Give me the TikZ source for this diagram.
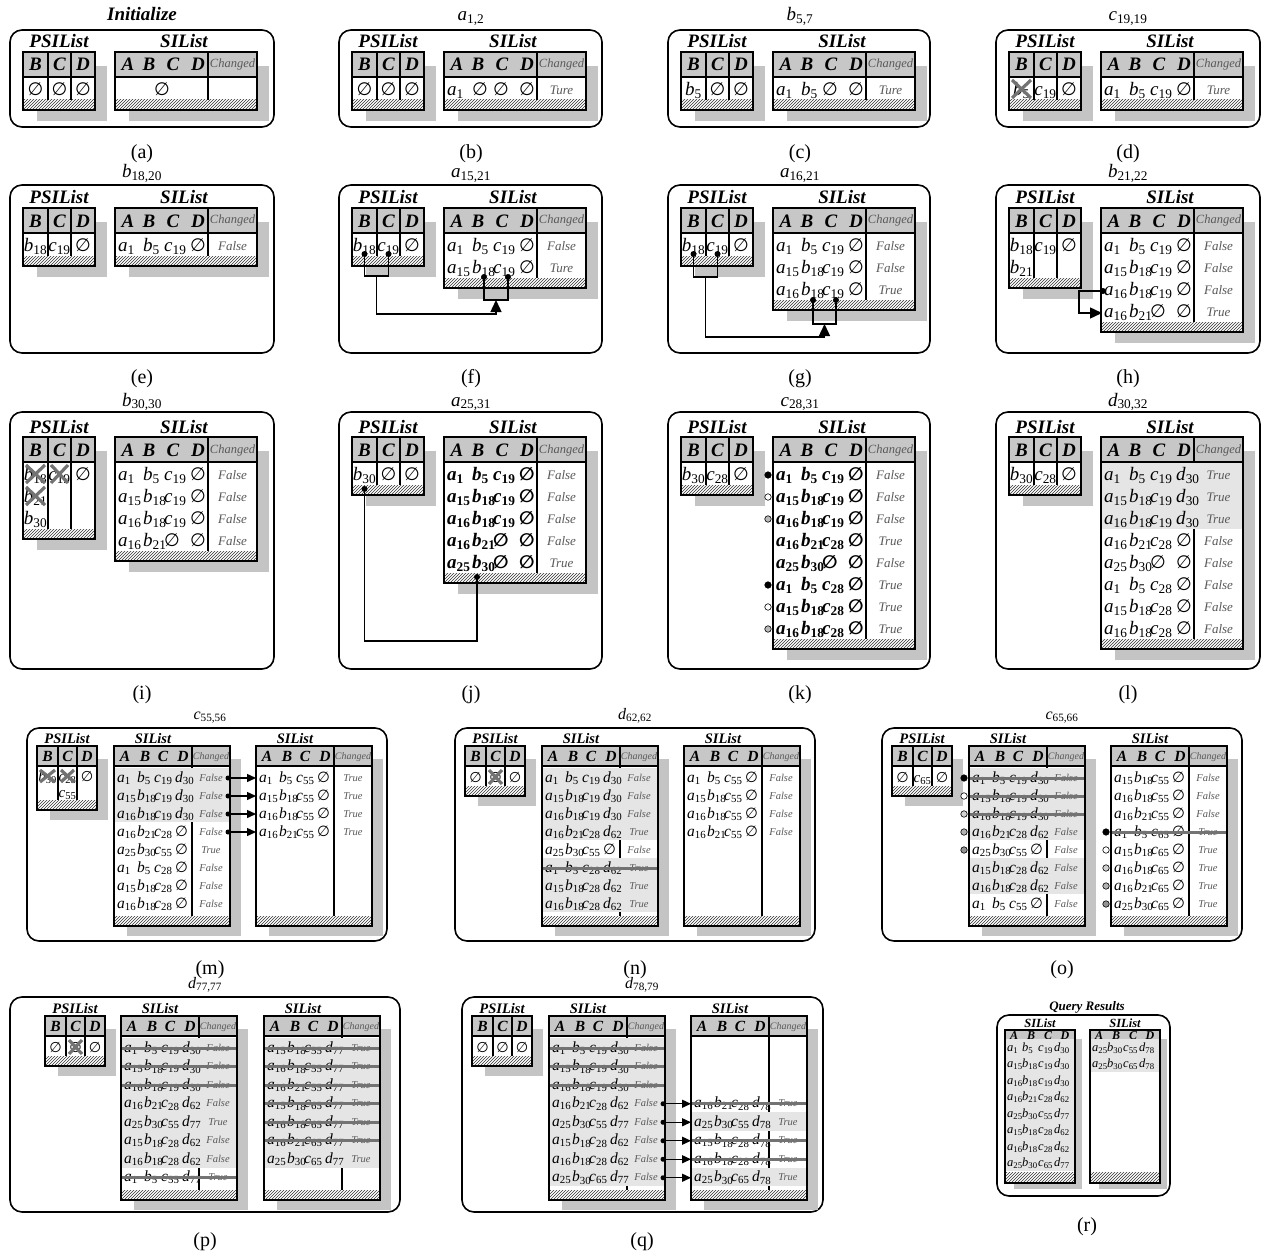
\documentclass[tikz,border=0pt]{standalone}
\usepackage{fontspec}
\setmainfont{Liberation Serif}
\newfontfamily\dvfont[Scale=0.95]{DejaVu Sans}
\usetikzlibrary{patterns,arrows.meta}
\definecolor{hdrc}{gray}{0.78}
\definecolor{shdc}{gray}{0.77}
\definecolor{bandc}{gray}{0.9}
\definecolor{strc}{gray}{0.45}
\definecolor{chc}{gray}{0.35}
\newcounter{nc}
\newcommand\xV[2]{\textit{#1}\textsubscript{#2}}
\newcommand\xN{{\dvfont ∅}}
\newcommand\xT[4]{\stepcounter{nc}\node[inner sep=0pt,#1] (t\arabic{nc}) at ({#2},{#3}) {#4};}
\newcommand\hfL{\fontsize{19}{20}\selectfont\bfseries\itshape}
\newcommand\hfS{\fontsize{15.5}{16}\selectfont\bfseries\itshape}
\newcommand\lfS{\fontsize{14.5}{15}\selectfont\bfseries\itshape}
\newcommand\ttl{\fontsize{19}{20}\selectfont}
\newcommand\ttS{\fontsize{16}{17}\selectfont}
\newcommand\xL[3]{\xT{anchor=base}{#1}{#2}{\fontsize{20}{22}\selectfont #3}}
\newcommand\xFR[4]{\draw[fr] (#1,#2) rectangle (#3,#4);}
\newcommand\xTB[7]{%
 \fill[shdc] ({#1+#7},{#2+#7}) rectangle ({#3+#7-2},{#4+#7-3});
 \fill[white] ({#1},{#2}) rectangle ({#3},{#4});
 \fill[hdrc] ({#1},{#2}) rectangle ({#3},{#5});
 \fill[pattern=north east lines,pattern color=black!80] ({#1},{#6}) rectangle ({#3},{#4});
 \draw[line width=2.4] ({#1},{#5}) -- ({#3},{#5});
 \draw[tbl] ({#1},{#2}) rectangle ({#3},{#4});}
% large SIList
\newcommand\xSILL[3]{%
 \def\tx{#1}\def\tw{#1+142}\def\ty{#2+26}\def\rr{22}\def\tch{#1+117.5}\def\bl{6.5}%
 \def\oA{3}\def\oB{28}\def\oC{49}\def\oD{75}%
 \def\ef{\fontsize{19}{20}\selectfont}\def\cf{\fontsize{13}{14}\selectfont\itshape\color{chc}}%
 \xTB{#1}{#2}{#1+142}{#2+36+22*#3}{#2+25}{#2+26+22*#3}{14}
 \draw[sepl] ({#1+93},{#2}) -- ({#1+93},{#2+26+22*#3});
 \xT{anchor=base}{#1+13}{#2+19}{\hfL A}
 \xT{anchor=base}{#1+34}{#2+19}{\hfL B}
 \xT{anchor=base}{#1+58}{#2+19}{\hfL C}
 \xT{anchor=base}{#1+83}{#2+19}{\hfL D}
 \xT{anchor=base}{#1+117.5}{#2+16}{\fontsize{12.5}{13}\selectfont\itshape\color{chc}Changed}
 \xT{anchor=base}{#1+69}{#2-4}{\hfL SIList}}
% large PSIList
\newcommand\xPSL[3]{%
 \def\px{#1}\def\pty{#2+26}\def\prr{22}\def\pbl{6.5}%
 \def\pcA{12.5}\def\pcB{36.5}\def\pcC{60}\def\pxA{0}\def\pxB{25}\def\pxC{48}\def\pxD{72}%
 \def\pef{\fontsize{19}{20}\selectfont}%
 \xTB{#1}{#2}{#1+72}{#2+36+22*#3}{#2+25}{#2+26+22*#3}{14}
 \draw[sepl] ({#1+25},{#2}) -- ({#1+25},{#2+26+22*#3});
 \draw[sepl] ({#1+48},{#2}) -- ({#1+48},{#2+26+22*#3});
 \xT{anchor=base}{#1+12.5}{#2+19}{\hfL B}
 \xT{anchor=base}{#1+36.5}{#2+19}{\hfL C}
 \xT{anchor=base}{#1+60}{#2+19}{\hfL D}
 \xT{anchor=base}{#1+36}{#2-4}{\hfL PSIList}}
% small PSIList
\newcommand\xPSS[4]{%
 \def\px{#1}\def\pty{#2+22}\def\prr{#4}\def\pbl{5}%
 \def\pcA{10.5}\def\pcB{30.5}\def\pcC{50}\def\pxA{0}\def\pxB{21}\def\pxC{40}\def\pxD{60}%
 \def\pef{\fontsize{15}{16}\selectfont}%
 \xTB{#1}{#2}{#1+60}{#2+32+#3*#4}{#2+20}{#2+22+#3*#4}{13}
 \draw[sepl] ({#1+21},{#2}) -- ({#1+21},{#2+22+#3*#4});
 \draw[sepl] ({#1+40},{#2}) -- ({#1+40},{#2+22+#3*#4});
 \xT{anchor=base}{#1+10.5}{#2+15.5}{\hfS B}
 \xT{anchor=base}{#1+30.5}{#2+15.5}{\hfS C}
 \xT{anchor=base}{#1+50}{#2+15.5}{\hfS D}
 \xT{anchor=base}{#1+30}{#2-3}{\lfS PSIList}}
% small SIList
\newcommand\xSILS[3]{%
 \def\tx{#1}\def\tw{#1+116}\def\ty{#2+22}\def\rr{#3}\def\tch{#1+97}\def\bl{5}%
 \def\oA{3}\def\oB{23}\def\oC{40}\def\oD{61}%
 \def\ef{\fontsize{15.5}{16}\selectfont}\def\cf{\fontsize{10.5}{11}\selectfont\itshape\color{chc}}%
 \xTB{#1}{#2}{#1+116}{#2+36+8*#3}{#2+20}{#2+26+8*#3}{13}
 \draw[sepl] ({#1+78},{#2}) -- ({#1+78},{#2+26+8*#3});
 \xT{anchor=base}{#1+11}{#2+15.5}{\hfS A}
 \xT{anchor=base}{#1+31}{#2+15.5}{\hfS B}
 \xT{anchor=base}{#1+49}{#2+15.5}{\hfS C}
 \xT{anchor=base}{#1+69}{#2+15.5}{\hfS D}
 \xT{anchor=base}{#1+97}{#2+13}{\fontsize{10}{11}\selectfont\itshape\color{chc}Changed}
 \xT{anchor=base}{#1+39}{#2-3}{\lfS SIList}}
% query result SIList
\newcommand\xSILR[2]{%
 \def\tx{#1}\def\tw{#1+70}\def\ty{#2+9}\def\rr{16.5}\def\tch{#1}\def\bl{4}%
 \def\oA{2}\def\oB{17}\def\oC{33}\def\oD{49}%
 \def\ef{\fontsize{12.5}{13}\selectfont}\def\cf{}%
 \xTB{#1}{#2}{#1+70}{#2+153}{#2+10}{#2+142}{9}
 \xT{anchor=base}{#1+9}{#2+9}{\fontsize{12}{12}\selectfont\bfseries\itshape A}
 \xT{anchor=base}{#1+26}{#2+9}{\fontsize{12}{12}\selectfont\bfseries\itshape B}
 \xT{anchor=base}{#1+43}{#2+9}{\fontsize{12}{12}\selectfont\bfseries\itshape C}
 \xT{anchor=base}{#1+60}{#2+9}{\fontsize{12}{12}\selectfont\bfseries\itshape D}
 \xT{anchor=base}{#1+35}{#2-3}{\fontsize{12.5}{13}\selectfont\bfseries\itshape SIList}}
\newcommand\xPR[4]{%
 \xT{anchor=base}{\px+\pcA}{\pty+\prr*(#1-0.5)+\pbl}{\pef #2}
 \xT{anchor=base}{\px+\pcB}{\pty+\prr*(#1-0.5)+\pbl}{\pef #3}
 \xT{anchor=base}{\px+\pcC}{\pty+\prr*(#1-0.5)+\pbl}{\pef #4}}
\newcommand\xPX[2]{%
 \ifcase#2\or\def\xxa{\pxA}\def\xxb{\pxB}\or\def\xxa{\pxB}\def\xxb{\pxC}\or\def\xxa{\pxC}\def\xxb{\pxD}\fi
 \draw[xx] ({\px+\xxa+3},{\pty+\prr*(#1-1)+2}) -- ({\px+\xxb-3},{\pty+\prr*#1-2})
  ({\px+\xxa+3},{\pty+\prr*#1-2}) -- ({\px+\xxb-3},{\pty+\prr*(#1-1)+2});}
\newcommand\xSR[6]{%
 \xT{anchor=base west}{\tx+\oA}{\ty+\rr*(#1-0.5)+\bl}{\ef #2}
 \xT{anchor=base west}{\tx+\oB}{\ty+\rr*(#1-0.5)+\bl}{\ef #3}
 \xT{anchor=base west}{\tx+\oC}{\ty+\rr*(#1-0.5)+\bl}{\ef #4}
 \xT{anchor=base west}{\tx+\oD}{\ty+\rr*(#1-0.5)+\bl}{\ef #5}
 \xT{anchor=base}{\tch}{\ty+\rr*(#1-0.5)+\bl-1}{\cf #6}}
\newcommand\xBR[1]{\fill[bandc] ({\tx+1.4},{\ty+\rr*(#1-1)}) rectangle ({\tw-1.4},{\ty+\rr*#1});}
\newcommand\xSK[1]{\draw[strk] ({\tx+1.4},{\ty+\rr*(#1-0.5)+1}) -- ({\tw-1.4},{\ty+\rr*(#1-0.5)+1});}
\newcommand\xRD[2]{\xT{dotc,fill=#2}{\tx-5}{\ty+\rr*(#1-0.5)+1}{}}
\tikzset{
 fr/.style={line width=1.6,rounded corners=12},
 tbl/.style={line width=2.8},
 sepl/.style={line width=2.6},
 strk/.style={line width=3,strc},
 xx/.style={line width=3.2,strc},
 dotc/.style={circle,draw=black,line width=0.6,minimum size=6.5pt},
 conn/.style={line width=1.4},
 arr/.style={line width=1.4,-{Triangle[length=12pt,width=11pt]}},
 arrs/.style={line width=1.4,-{Triangle[length=9pt,width=8pt]}},
 jdot/.style={circle,fill=black,minimum size=6pt,inner sep=0pt},
}
\begin{document}
\begin{tikzpicture}[x=1pt,y=-1pt]
\fill[white] (0,0) rectangle (1266,1252);
\useasboundingbox (0,0) rectangle (1266,1252);
% ================= ROW 1 =================
% (a)
\xFR{10}{30}{274}{127}
\xT{anchor=base}{142}{21}{\ttl\bfseries\itshape Initialize}
\xPSL{23}{52}{1}\xPR{1}{\xN}{\xN}{\xN}
\xSILL{115}{52}{1}
\xT{anchor=base}{162}{95.5}{\ef\xN}
\xL{142}{159}{(a)}
% (b)
\xFR{339}{30}{602}{127}
\xT{anchor=base}{471}{21}{\ttl\xV a{1,2}}
\xPSL{352}{52}{1}\xPR{1}{\xN}{\xN}{\xN}
\xSILL{444}{52}{1}\xSR{1}{\xV a1}{\xN}{\xN}{\xN}{Ture}
\xL{471}{159}{(b)}
% (c)
\xFR{668}{30}{930}{127}
\xT{anchor=base}{800}{21}{\ttl\xV b{5,7}}
\xPSL{681}{52}{1}\xPR{1}{\xV b5}{\xN}{\xN}
\xSILL{773}{52}{1}\xSR{1}{\xV a1}{\xV b5}{\xN}{\xN}{Ture}
\xL{800}{159}{(c)}
% (d)
\xFR{996}{30}{1260}{127}
\xT{anchor=base}{1128}{21}{\ttl\xV c{19,19}}
\xPSL{1009}{52}{1}\xPR{1}{\xV b5}{\xV c{19}}{\xN}\xPX{1}{1}
\xSILL{1101}{52}{1}\xSR{1}{\xV a1}{\xV b5}{\xV c{19}}{\xN}{Ture}
\xL{1128}{159}{(d)}
% ================= ROW 2 =================
% (e)
\xFR{10}{185}{274}{353}
\xT{anchor=base}{142}{178}{\ttl\xV b{18,20}}
\xPSL{23}{208}{1}\xPR{1}{\xV b{18}}{\xV c{19}}{\xN}
\xSILL{115}{208}{1}\xSR{1}{\xV a1}{\xV b5}{\xV c{19}}{\xN}{False}
\xL{142}{383}{(e)}
% (f)
\xFR{339}{185}{602}{353}
\xT{anchor=base}{471}{178}{\ttl\xV a{15,21}}
\xPSL{352}{208}{1}\xPR{1}{\xV b{18}}{\xV c{19}}{\xN}
\xSILL{444}{208}{2}
\xSR{1}{\xV a1}{\xV b5}{\xV c{19}}{\xN}{False}
\xSR{2}{\xV a{15}}{\xV b{18}}{\xV c{19}}{\xN}{Ture}
\coordinate (f1) at (364.5,254); \coordinate (f2) at (388.5,254);
\coordinate (fm) at (376.5,276);
\coordinate (f3) at (484,277); \coordinate (f4) at (508,277);
\coordinate (fn) at (496,300);
\draw[conn] (f1) |- (fm) -| (f2);
\draw[conn] (f3) |- (fn) -| (f4);
\draw[arr] (fm) -- ++(0,38) -| (fn);
\node[jdot] (f1d) at (f1) {}; \node[jdot] (f2d) at (f2) {};
\node[jdot] (f3d) at (f3) {}; \node[jdot] (f4d) at (f4) {};
\xL{471}{383}{(f)}
% (g)
\xFR{668}{185}{930}{353}
\xT{anchor=base}{800}{178}{\ttl\xV a{16,21}}
\xPSL{681}{208}{1}\xPR{1}{\xV b{18}}{\xV c{19}}{\xN}
\xSILL{773}{208}{3}
\xSR{1}{\xV a1}{\xV b5}{\xV c{19}}{\xN}{False}
\xSR{2}{\xV a{15}}{\xV b{18}}{\xV c{19}}{\xN}{False}
\xSR{3}{\xV a{16}}{\xV b{18}}{\xV c{19}}{\xN}{True}
\coordinate (g1) at (693.5,254); \coordinate (g2) at (717.5,254);
\coordinate (gm) at (705.5,277);
\coordinate (g3) at (813,300); \coordinate (g4) at (836,300);
\coordinate (gn) at (824.5,324);
\draw[conn] (g1) |- (gm) -| (g2);
\draw[conn] (g3) |- (gn) -| (g4);
\draw[arr] (gm) -- ++(0,60) -| (gn);
\node[jdot] (g1d) at (g1) {}; \node[jdot] (g2d) at (g2) {};
\node[jdot] (g3d) at (g3) {}; \node[jdot] (g4d) at (g4) {};
\xL{800}{383}{(g)}
% (h)
\xFR{996}{185}{1260}{353}
\xT{anchor=base}{1128}{178}{\ttl\xV b{21,22}}
\xPSL{1009}{208}{2}\xPR{1}{\xV b{18}}{\xV c{19}}{\xN}\xPR{2}{\xV b{21}}{}{}
\xSILL{1101}{208}{4}
\xSR{1}{\xV a1}{\xV b5}{\xV c{19}}{\xN}{False}
\xSR{2}{\xV a{15}}{\xV b{18}}{\xV c{19}}{\xN}{False}
\xSR{3}{\xV a{16}}{\xV b{18}}{\xV c{19}}{\xN}{False}
\xSR{4}{\xV a{16}}{\xV b{21}}{\xN}{\xN}{True}
\coordinate (h1) at (1103,291); \coordinate (h2) at (1102,313);
\draw[arr] (h1) -- ++(-24,0) |- (h2);
\node[jdot] (h1d) at (h1) {};
\xL{1128}{383}{(h)}
% ================= ROW 3 =================
% (i)
\xFR{10}{412}{274}{669}
\xT{anchor=base}{142}{406}{\ttl\xV b{30,30}}
\xPSL{23}{437}{3}
\xPR{1}{\xV b{18}}{\xV c{19}}{\xN}\xPR{2}{\xV b{21}}{}{}\xPR{3}{\xV b{30}}{}{}
\xPX{1}{1}\xPX{1}{2}\xPX{2}{1}
\xSILL{115}{437}{4}
\xSR{1}{\xV a1}{\xV b5}{\xV c{19}}{\xN}{False}
\xSR{2}{\xV a{15}}{\xV b{18}}{\xV c{19}}{\xN}{False}
\xSR{3}{\xV a{16}}{\xV b{18}}{\xV c{19}}{\xN}{False}
\xSR{4}{\xV a{16}}{\xV b{21}}{\xN}{\xN}{False}
\xL{142}{699}{(i)}
% (j)
\xFR{339}{412}{602}{669}
\xT{anchor=base}{471}{406}{\ttl\xV a{25,31}}
\xPSL{352}{437}{1}\xPR{1}{\xV b{30}}{\xN}{\xN}
\xSILL{444}{437}{5}\def\ef{\fontsize{19}{20}\selectfont\bfseries}
\xSR{1}{\xV a1}{\xV b5}{\xV c{19}}{\xN}{False}
\xSR{2}{\xV a{15}}{\xV b{18}}{\xV c{19}}{\xN}{False}
\xSR{3}{\xV a{16}}{\xV b{18}}{\xV c{19}}{\xN}{False}
\xSR{4}{\xV a{16}}{\xV b{21}}{\xN}{\xN}{False}
\xSR{5}{\xV a{25}}{\xV b{30}}{\xN}{\xN}{True}
\coordinate (j1) at (364.5,489); \coordinate (jc) at (364.5,641);
\coordinate (j2) at (477,577);
\draw[conn] (j1) -- (jc) -| (j2);
\node[jdot] (j1d) at (j1) {}; \node[jdot] (j2d) at (j2) {};
\xL{471}{699}{(j)}
% (k)
\xFR{668}{412}{930}{669}
\xT{anchor=base}{800}{406}{\ttl\xV c{28,31}}
\xPSL{681}{437}{1}\xPR{1}{\xV b{30}}{\xV c{28}}{\xN}
\xSILL{773}{437}{8}\def\ef{\fontsize{19}{20}\selectfont\bfseries}
\xSR{1}{\xV a1}{\xV b5}{\xV c{19}}{\xN}{False}
\xSR{2}{\xV a{15}}{\xV b{18}}{\xV c{19}}{\xN}{False}
\xSR{3}{\xV a{16}}{\xV b{18}}{\xV c{19}}{\xN}{False}
\xSR{4}{\xV a{16}}{\xV b{21}}{\xV c{28}}{\xN}{True}
\xSR{5}{\xV a{25}}{\xV b{30}}{\xN}{\xN}{False}
\xSR{6}{\xV a1}{\xV b5}{\xV c{28}}{\xN}{True}
\xSR{7}{\xV a{15}}{\xV b{18}}{\xV c{28}}{\xN}{True}
\xSR{8}{\xV a{16}}{\xV b{18}}{\xV c{28}}{\xN}{True}
\xRD{1}{black}\xRD{2}{white}\xRD{3}{gray!55}\xRD{6}{black}\xRD{7}{white}\xRD{8}{gray!55}
\xL{800}{699}{(k)}
% (l)
\xFR{996}{412}{1260}{669}
\xT{anchor=base}{1128}{406}{\ttl\xV d{30,32}}
\xPSL{1009}{437}{1}\xPR{1}{\xV b{30}}{\xV c{28}}{\xN}
\xSILL{1101}{437}{8}
\xBR{1}\xBR{2}\xBR{3}
\xSR{1}{\xV a1}{\xV b5}{\xV c{19}}{\xV d{30}}{True}
\xSR{2}{\xV a{15}}{\xV b{18}}{\xV c{19}}{\xV d{30}}{True}
\xSR{3}{\xV a{16}}{\xV b{18}}{\xV c{19}}{\xV d{30}}{True}
\xSR{4}{\xV a{16}}{\xV b{21}}{\xV c{28}}{\xN}{False}
\xSR{5}{\xV a{25}}{\xV b{30}}{\xN}{\xN}{False}
\xSR{6}{\xV a1}{\xV b5}{\xV c{28}}{\xN}{False}
\xSR{7}{\xV a{15}}{\xV b{18}}{\xV c{28}}{\xN}{False}
\xSR{8}{\xV a{16}}{\xV b{18}}{\xV c{28}}{\xN}{False}
\xL{1128}{699}{(l)}
% ================= ROW 4 =================
% (m)
\xFR{27}{728}{387}{941}
\xT{anchor=base}{210}{719}{\ttS\xV c{55,56}}
\xPSS{37}{746}{2}{16}
\xPR{1}{\xV b{30}}{\xV c{28}}{\xN}\xPX{1}{1}\xPX{1}{2}\xPR{2}{}{\xV c{55}}{}
\xSILS{114}{746}{18}
\xBR{1}\xBR{2}\xBR{3}
\xSR{1}{\xV a1}{\xV b5}{\xV c{19}}{\xV d{30}}{False}
\xSR{2}{\xV a{15}}{\xV b{18}}{\xV c{19}}{\xV d{30}}{False}
\xSR{3}{\xV a{16}}{\xV b{18}}{\xV c{19}}{\xV d{30}}{False}
\xSR{4}{\xV a{16}}{\xV b{21}}{\xV c{28}}{\xN}{False}
\xSR{5}{\xV a{25}}{\xV b{30}}{\xV c{55}}{\xN}{True}
\xSR{6}{\xV a1}{\xV b5}{\xV c{28}}{\xN}{False}
\xSR{7}{\xV a{15}}{\xV b{18}}{\xV c{28}}{\xN}{False}
\xSR{8}{\xV a{16}}{\xV b{18}}{\xV c{28}}{\xN}{False}
\xSILS{256}{746}{18}
\xSR{1}{\xV a1}{\xV b5}{\xV c{55}}{\xN}{True}
\xSR{2}{\xV a{15}}{\xV b{18}}{\xV c{55}}{\xN}{True}
\xSR{3}{\xV a{16}}{\xV b{18}}{\xV c{55}}{\xN}{True}
\xSR{4}{\xV a{16}}{\xV b{21}}{\xV c{55}}{\xN}{True}
\foreach \i/\yy in {1/778,2/796,3/814,4/832}{
 \coordinate (ms\i) at (228,\yy); \coordinate (me\i) at (256,\yy);
 \draw[arrs] (ms\i) -- (me\i);
 \node[jdot,minimum size=5pt] (md\i) at (ms\i) {};}
\xL{210}{974}{(m)}
% (n)
\xFR{455}{728}{815}{941}
\xT{anchor=base}{635}{719}{\ttS\xV d{62,62}}
\xPSS{465}{746}{1}{18}\xPR{1}{\xN}{\xN}{\xN}\xPX{1}{2}
\xSILS{542}{746}{18}
\xBR{1}\xBR{2}\xBR{3}\xBR{4}\xBR{6}\xBR{7}\xBR{8}
\xSR{1}{\xV a1}{\xV b5}{\xV c{19}}{\xV d{30}}{False}
\xSR{2}{\xV a{15}}{\xV b{18}}{\xV c{19}}{\xV d{30}}{False}
\xSR{3}{\xV a{16}}{\xV b{18}}{\xV c{19}}{\xV d{30}}{False}
\xSR{4}{\xV a{16}}{\xV b{21}}{\xV c{28}}{\xV d{62}}{True}
\xSR{5}{\xV a{25}}{\xV b{30}}{\xV c{55}}{\xN}{False}
\xSR{6}{\xV a1}{\xV b5}{\xV c{28}}{\xV d{62}}{True}
\xSR{7}{\xV a{15}}{\xV b{18}}{\xV c{28}}{\xV d{62}}{True}
\xSR{8}{\xV a{16}}{\xV b{18}}{\xV c{28}}{\xV d{62}}{True}
\xSK{6}
\xSILS{684}{746}{18}
\xSR{1}{\xV a1}{\xV b5}{\xV c{55}}{\xN}{False}
\xSR{2}{\xV a{15}}{\xV b{18}}{\xV c{55}}{\xN}{False}
\xSR{3}{\xV a{16}}{\xV b{18}}{\xV c{55}}{\xN}{False}
\xSR{4}{\xV a{16}}{\xV b{21}}{\xV c{55}}{\xN}{False}
\xL{635}{974}{(n)}
% (o)
\xFR{882}{728}{1242}{941}
\xT{anchor=base}{1062}{719}{\ttS\xV c{65,66}}
\xPSS{892}{746}{1}{18}\xPR{1}{\xN}{\xV c{65}}{\xN}
\xSILS{969}{746}{18}
\xBR{1}\xBR{2}\xBR{3}\xBR{4}\xBR{6}\xBR{7}
\xSR{1}{\xV a1}{\xV b5}{\xV c{19}}{\xV d{30}}{False}
\xSR{2}{\xV a{15}}{\xV b{18}}{\xV c{19}}{\xV d{30}}{False}
\xSR{3}{\xV a{16}}{\xV b{18}}{\xV c{19}}{\xV d{30}}{False}
\xSR{4}{\xV a{16}}{\xV b{21}}{\xV c{28}}{\xV d{62}}{False}
\xSR{5}{\xV a{25}}{\xV b{30}}{\xV c{55}}{\xN}{False}
\xSR{6}{\xV a{15}}{\xV b{18}}{\xV c{28}}{\xV d{62}}{False}
\xSR{7}{\xV a{16}}{\xV b{18}}{\xV c{28}}{\xV d{62}}{False}
\xSR{8}{\xV a1}{\xV b5}{\xV c{55}}{\xN}{False}
\xSK{1}\xSK{2}\xSK{3}
\xRD{1}{black}\xRD{2}{white}\xRD{3}{gray!35}\xRD{4}{gray!60}\xRD{5}{gray!85}
\xSILS{1111}{746}{18}
\xSR{1}{\xV a{15}}{\xV b{18}}{\xV c{55}}{\xN}{False}
\xSR{2}{\xV a{16}}{\xV b{18}}{\xV c{55}}{\xN}{False}
\xSR{3}{\xV a{16}}{\xV b{21}}{\xV c{55}}{\xN}{False}
\xSR{4}{\xV a1}{\xV b5}{\xV c{65}}{\xN}{True}
\xSR{5}{\xV a{15}}{\xV b{18}}{\xV c{65}}{\xN}{True}
\xSR{6}{\xV a{16}}{\xV b{18}}{\xV c{65}}{\xN}{True}
\xSR{7}{\xV a{16}}{\xV b{21}}{\xV c{65}}{\xN}{True}
\xSR{8}{\xV a{25}}{\xV b{30}}{\xV c{65}}{\xN}{True}
\xSK{4}
\xRD{4}{black}\xRD{5}{white}\xRD{6}{gray!35}\xRD{7}{gray!60}\xRD{8}{gray!85}
\xL{1062}{974}{(o)}
% ================= ROW 5 =================
% (p)
\xFR{10}{997}{400}{1212}
\xT{anchor=base}{205}{988}{\ttS\xV d{77,77}}
\xPSS{45}{1016}{1}{18}\xPR{1}{\xN}{\xN}{\xN}\xPX{1}{2}
\xSILS{121}{1016}{18.5}
\xBR{1}\xBR{2}\xBR{3}\xBR{4}\xBR{5}\xBR{6}\xBR{7}
\xSR{1}{\xV a1}{\xV b5}{\xV c{19}}{\xV d{30}}{False}
\xSR{2}{\xV a{15}}{\xV b{18}}{\xV c{19}}{\xV d{30}}{False}
\xSR{3}{\xV a{16}}{\xV b{18}}{\xV c{19}}{\xV d{30}}{False}
\xSR{4}{\xV a{16}}{\xV b{21}}{\xV c{28}}{\xV d{62}}{False}
\xSR{5}{\xV a{25}}{\xV b{30}}{\xV c{55}}{\xV d{77}}{True}
\xSR{6}{\xV a{15}}{\xV b{18}}{\xV c{28}}{\xV d{62}}{False}
\xSR{7}{\xV a{16}}{\xV b{18}}{\xV c{28}}{\xV d{62}}{False}
\xSR{8}{\xV a1}{\xV b5}{\xV c{55}}{\xV d{77}}{True}
\xSK{1}\xSK{2}\xSK{3}\xSK{8}
\xSILS{264}{1016}{18.5}
\xBR{1}\xBR{2}\xBR{3}\xBR{4}\xBR{5}\xBR{6}\xBR{7}
\xSR{1}{\xV a{15}}{\xV b{18}}{\xV c{55}}{\xV d{77}}{True}
\xSR{2}{\xV a{16}}{\xV b{18}}{\xV c{55}}{\xV d{77}}{True}
\xSR{3}{\xV a{16}}{\xV b{21}}{\xV c{55}}{\xV d{77}}{True}
\xSR{4}{\xV a{15}}{\xV b{18}}{\xV c{65}}{\xV d{77}}{True}
\xSR{5}{\xV a{16}}{\xV b{18}}{\xV c{65}}{\xV d{77}}{True}
\xSR{6}{\xV a{16}}{\xV b{21}}{\xV c{65}}{\xV d{77}}{True}
\xSR{7}{\xV a{25}}{\xV b{30}}{\xV c{65}}{\xV d{77}}{True}
\xSK{1}\xSK{2}\xSK{3}\xSK{4}\xSK{5}\xSK{6}
\xL{205}{1246}{(p)}
% (q)
\xFR{462}{997}{823}{1212}
\xT{anchor=base}{642}{988}{\ttS\xV d{78,79}}
\xPSS{472}{1016}{1}{18}\xPR{1}{\xN}{\xN}{\xN}
\xSILS{549}{1016}{18.5}
\xBR{1}\xBR{2}\xBR{3}\xBR{4}\xBR{5}\xBR{6}\xBR{7}\xBR{8}
\xSR{1}{\xV a1}{\xV b5}{\xV c{19}}{\xV d{30}}{False}
\xSR{2}{\xV a{15}}{\xV b{18}}{\xV c{19}}{\xV d{30}}{False}
\xSR{3}{\xV a{16}}{\xV b{18}}{\xV c{19}}{\xV d{30}}{False}
\xSR{4}{\xV a{16}}{\xV b{21}}{\xV c{28}}{\xV d{62}}{False}
\xSR{5}{\xV a{25}}{\xV b{30}}{\xV c{55}}{\xV d{77}}{False}
\xSR{6}{\xV a{15}}{\xV b{18}}{\xV c{28}}{\xV d{62}}{False}
\xSR{7}{\xV a{16}}{\xV b{18}}{\xV c{28}}{\xV d{62}}{False}
\xSR{8}{\xV a{25}}{\xV b{30}}{\xV c{65}}{\xV d{77}}{False}
\xSK{1}\xSK{2}\xSK{3}
\xSILS{691}{1016}{18.5}
\xBR{5}\xBR{8}
\xSR{4}{\xV a{16}}{\xV b{21}}{\xV c{28}}{\xV d{78}}{True}
\xSR{5}{\xV a{25}}{\xV b{30}}{\xV c{55}}{\xV d{78}}{True}
\xSR{6}{\xV a{15}}{\xV b{18}}{\xV c{28}}{\xV d{78}}{True}
\xSR{7}{\xV a{16}}{\xV b{18}}{\xV c{28}}{\xV d{78}}{True}
\xSR{8}{\xV a{25}}{\xV b{30}}{\xV c{65}}{\xV d{78}}{True}
\xSK{4}\xSK{6}\xSK{7}
\foreach \i/\yy in {4/1103.75,5/1122.25,6/1140.75,7/1159.25,8/1177.75}{
 \coordinate (qs\i) at (663,\yy); \coordinate (qe\i) at (691,\yy);
 \draw[arrs] (qs\i) -- (qe\i);
 \node[jdot,minimum size=5pt] (qd\i) at (qs\i) {};}
\xL{642}{1246}{(q)}
% (r)
\xFR{997}{1015}{1170}{1196}
\xT{anchor=base}{1087}{1010}{\fontsize{13}{14}\selectfont\bfseries\itshape Query Results}
\xSILR{1005}{1030}
\xBR{1}\xBR{2}\xBR{3}\xBR{4}\xBR{5}\xBR{6}\xBR{7}\xBR{8}
\xSR{1}{\xV a1}{\xV b5}{\xV c{19}}{\xV d{30}}{}
\xSR{2}{\xV a{15}}{\xV b{18}}{\xV c{19}}{\xV d{30}}{}
\xSR{3}{\xV a{16}}{\xV b{18}}{\xV c{19}}{\xV d{30}}{}
\xSR{4}{\xV a{16}}{\xV b{21}}{\xV c{28}}{\xV d{62}}{}
\xSR{5}{\xV a{25}}{\xV b{30}}{\xV c{55}}{\xV d{77}}{}
\xSR{6}{\xV a{15}}{\xV b{18}}{\xV c{28}}{\xV d{62}}{}
\xSR{7}{\xV a{16}}{\xV b{18}}{\xV c{28}}{\xV d{62}}{}
\xSR{8}{\xV a{25}}{\xV b{30}}{\xV c{65}}{\xV d{77}}{}
\xSILR{1090}{1030}
\xBR{1}\xBR{2}
\xSR{1}{\xV a{25}}{\xV b{30}}{\xV c{55}}{\xV d{78}}{}
\xSR{2}{\xV a{25}}{\xV b{30}}{\xV c{65}}{\xV d{78}}{}
\xL{1087}{1231}{(r)}
\end{tikzpicture}
\end{document}
